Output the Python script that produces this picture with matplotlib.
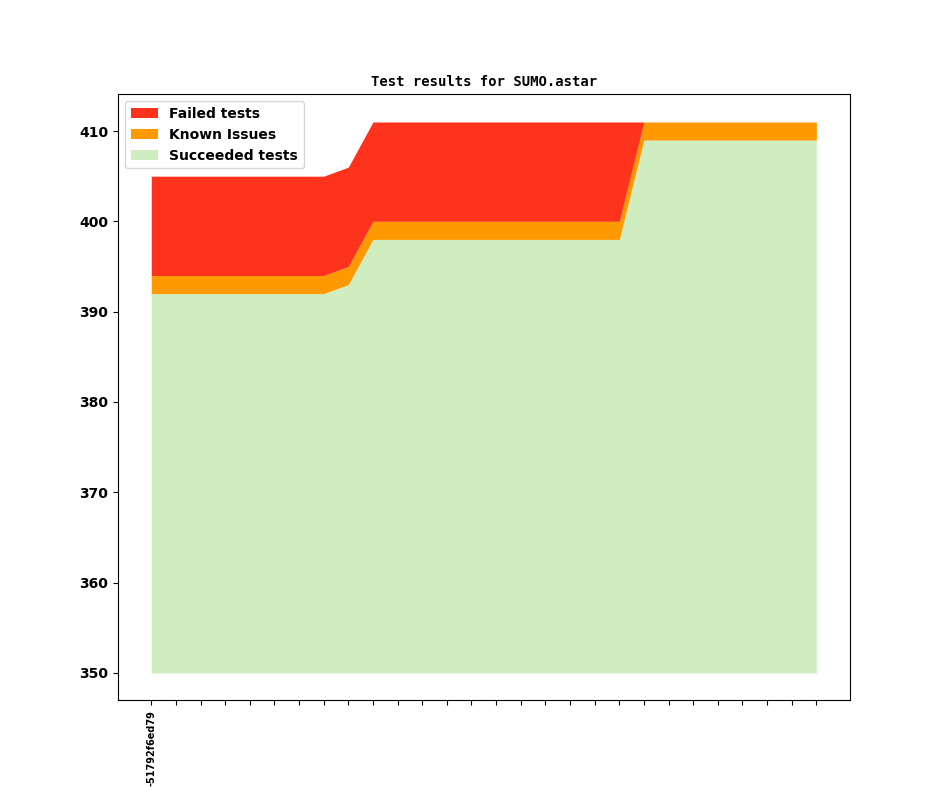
import numpy as np
import matplotlib
matplotlib.use('Agg')
import matplotlib.pyplot as plt

# test counts per revision (28 revisions, only the first one is labelled)
base = 350
succeeded = [392]*8 + [393] + [398]*11 + [409]*8
known = [2]*28
failed = [11]*8 + [11] + [11]*11 + [0]*8
revisions = ['-51792f6ed79'] + ['']*27

x = np.arange(len(succeeded))
s = np.array(succeeded)
k = s + np.array(known)
f = k + np.array(failed)

fig = plt.figure(figsize=(9.44, 7.87), dpi=100)
ax = fig.add_subplot(111)

ax.fill_between(x, base, s, color='#cfedbf', label='Succeeded tests', lw=0)
ax.fill_between(x, s, k, color='#ff9900', label='Known Issues', lw=0)
ax.fill_between(x, k, f, color='#ff331c', label='Failed tests', lw=0)

ax.set_title('Test results for SUMO.astar', fontsize=10, fontweight='bold',
             family='DejaVu Sans Mono')
ax.set_xticks(x)
ax.set_xticklabels(revisions, rotation=90, fontsize=7, fontweight='bold')
for lab in ax.get_yticklabels():
    lab.set_fontweight('bold')

h, l = ax.get_legend_handles_labels()
ax.legend(h[::-1], l[::-1], loc='upper left', prop={'weight': 'bold'})

fig.savefig('out.png', dpi=100)
